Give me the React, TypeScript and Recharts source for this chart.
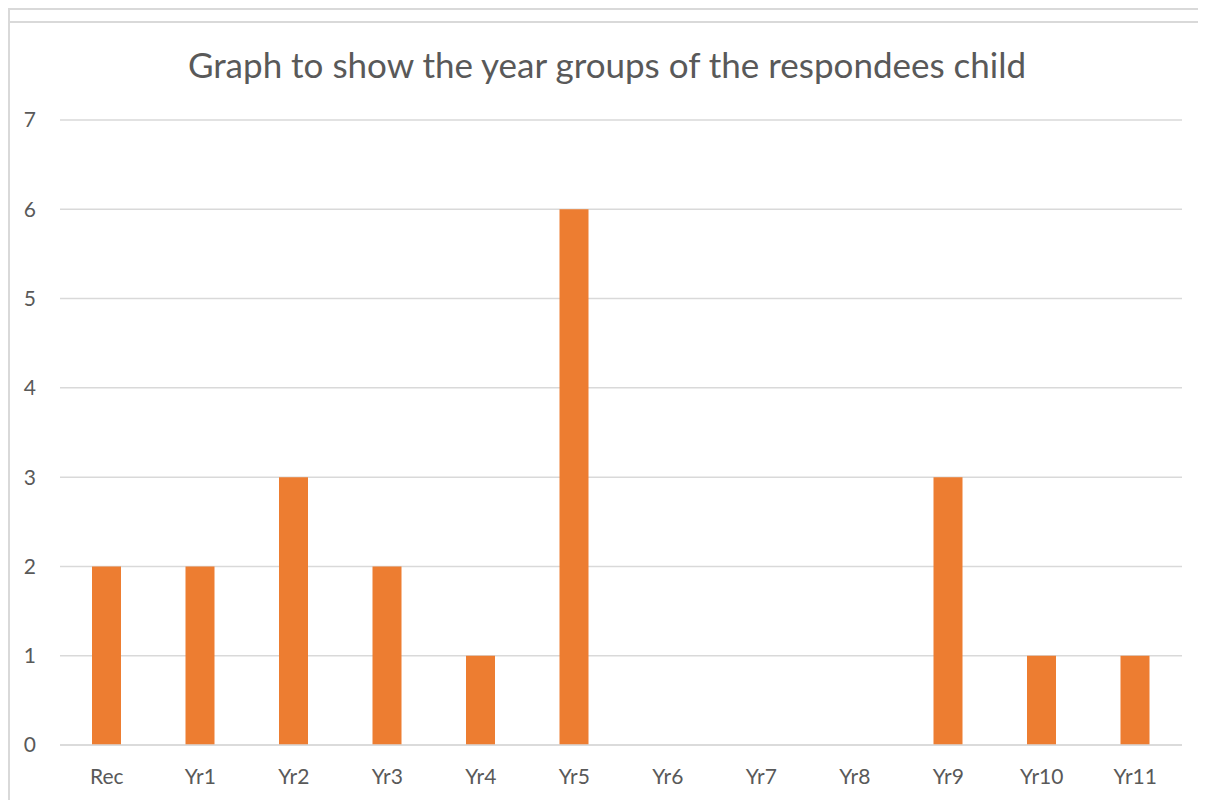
import { Bar, BarChart, CartesianGrid, XAxis, YAxis } from "recharts";

const CATEGORIES = ["Rec", "Yr1", "Yr2", "Yr3", "Yr4", "Yr5", "Yr6", "Yr7", "Yr8", "Yr9", "Yr10", "Yr11"];
const COUNTS = [2, 2, 3, 2, 1, 6, 0, 0, 0, 3, 1, 1];
const Y_TICKS = [0, 1, 2, 3, 4, 5, 6, 7];

const data = CATEGORIES.map((name, i) => ({ name, value: COUNTS[i] }));

const FONT = "Lato, 'Open Sans', sans-serif";
const GREY = "#595959";
const LINE = "#d9d9d9";

export default function App() {
  return (
    <div style={{ position: "relative", width: 1198, height: 792, fontFamily: FONT }}>
      <div style={{ position: "absolute", left: 0, top: 0, width: 1198, height: 2, background: LINE }} />
      <div style={{ position: "absolute", left: 0, top: 13, width: 1198, height: 2, background: LINE }} />
      <div style={{ position: "absolute", left: 0, top: 0, width: 2, height: 792, background: LINE }} />
      <div
        style={{
          position: "absolute",
          top: 36,
          left: 0,
          width: 1198,
          textAlign: "center",
          fontSize: 35,
          color: GREY,
          lineHeight: "40px",
        }}
      >
        Graph to show the year groups of the respondees child
      </div>
      <BarChart
        width={1198}
        height={792}
        data={data}
        margin={{ top: 112, right: 24, bottom: 15, left: 0 }}
        style={{ position: "absolute", left: 0, top: 0 }}
      >
        <CartesianGrid vertical={false} stroke={LINE} strokeWidth={1.5} />
        <XAxis
          dataKey="name"
          height={40}
          tickSize={0}
          tickMargin={24}
          axisLine={{ stroke: LINE, strokeWidth: 1.5 }}
          tick={{ fill: GREY, fontSize: 21, fontFamily: FONT }}
        />
        <YAxis
          width={52}
          domain={[0, 7]}
          ticks={Y_TICKS}
          tickSize={0}
          tickMargin={24}
          axisLine={false}
          tick={{ fill: GREY, fontSize: 21, fontFamily: FONT }}
        />
        <Bar dataKey="value" fill="#ED7D31" barSize={29} isAnimationActive={false} />
      </BarChart>
    </div>
  );
}
